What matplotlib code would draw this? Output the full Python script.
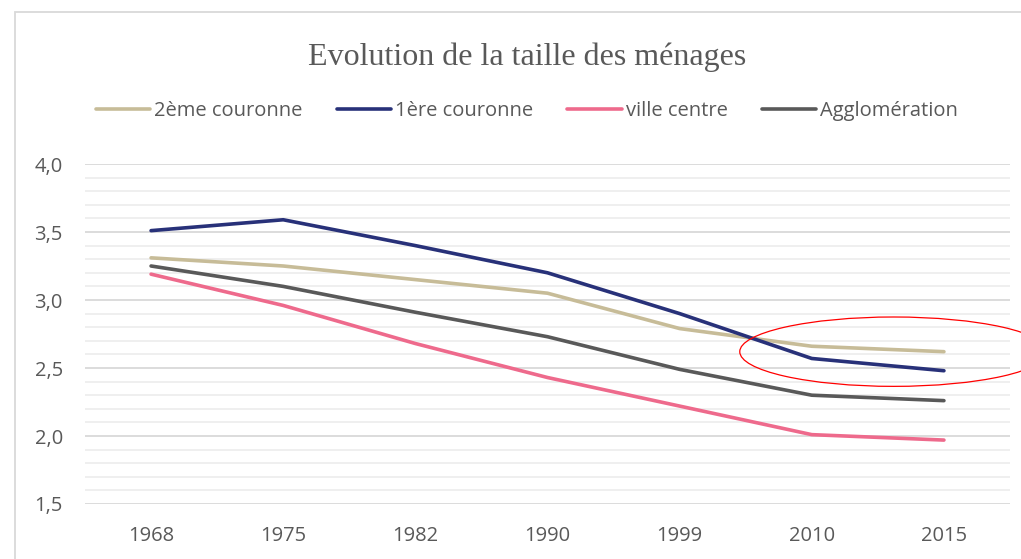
import matplotlib.pyplot as plt
from matplotlib.patches import Ellipse, Rectangle
from matplotlib.ticker import MultipleLocator

years = ['1968', '1975', '1982', '1990', '1999', '2010', '2015']
couronne_2 = [3.31, 3.25, 3.15, 3.05, 2.79, 2.66, 2.62]
couronne_1 = [3.51, 3.59, 3.40, 3.20, 2.90, 2.57, 2.48]
ville_centre = [3.19, 2.96, 2.68, 2.43, 2.22, 2.01, 1.97]
agglomeration = [3.25, 3.10, 2.91, 2.73, 2.49, 2.30, 2.26]

series = [
    ('2ème couronne', couronne_2, '#C7BC98'),
    ('1ère couronne', couronne_1, '#283179'),
    ('ville centre', ville_centre, '#EE6A8C'),
    ('Agglomération', agglomeration, '#595959'),
]

TXT = '#595959'
fig = plt.figure(figsize=(10.21, 5.59), dpi=100)
ax = fig.add_axes([85 / 1021, 1 - 504 / 559, 925 / 1021, 340 / 559])

x = list(range(len(years)))
for name, vals, col in series:
    ax.plot(x, vals, color=col, linewidth=2.6, label=name, solid_capstyle='round', zorder=3)

ax.set_xlim(-0.5, len(years) - 0.5)
ax.set_ylim(1.5, 4.0)
ax.yaxis.set_major_locator(MultipleLocator(0.5))
ax.yaxis.set_minor_locator(MultipleLocator(0.1))
ax.grid(axis='y', which='major', color='#d9d9d9', linewidth=1.3, zorder=1)
ax.grid(axis='y', which='minor', color='#eeeeee', linewidth=1.3, zorder=1)
ax.set_xticks(x)
ax.set_xticklabels(years)
yt = [1.5, 2.0, 2.5, 3.0, 3.5, 4.0]
ax.set_yticks(yt)
ax.set_yticklabels([f'{v:.1f}'.replace('.', ',') for v in yt])
ax.tick_params(axis='both', which='both', length=0, labelsize=14.5, labelcolor=TXT)
ax.tick_params(axis='x', pad=16)
ax.tick_params(axis='y', pad=16)
for s in ax.spines.values():
    s.set_visible(False)
for lab in ax.get_xticklabels() + ax.get_yticklabels():
    lab.set_family('Open Sans')

# red ellipse highlight
ell = Ellipse((5.62, 2.62), width=2.33, height=0.51, fill=False, edgecolor='red',
              linewidth=0.9, clip_on=False, zorder=4)
ax.add_patch(ell)

# chart frame
fig.add_artist(Rectangle((15 / 1021, -0.1), 1.2, 1 - 12 / 559 + 0.1, transform=fig.transFigure,
                         fill=False, edgecolor='#d9d9d9', linewidth=1.3))

fig.text(527 / 1021, 1 - 65 / 559, 'Evolution de la taille des ménages', ha='center', va='baseline',
         fontsize=23, color=TXT, family='Liberation Serif')

leg = fig.legend(loc='center', bbox_to_anchor=(527 / 1021, 1 - 111 / 559), ncol=4, frameon=False,
                 handlelength=2.7, handletextpad=0.2, columnspacing=1.7,
                 prop={'family': 'Open Sans', 'size': 14.5})
for t in leg.get_texts():
    t.set_color(TXT)

fig.savefig('out.png', dpi=100)
